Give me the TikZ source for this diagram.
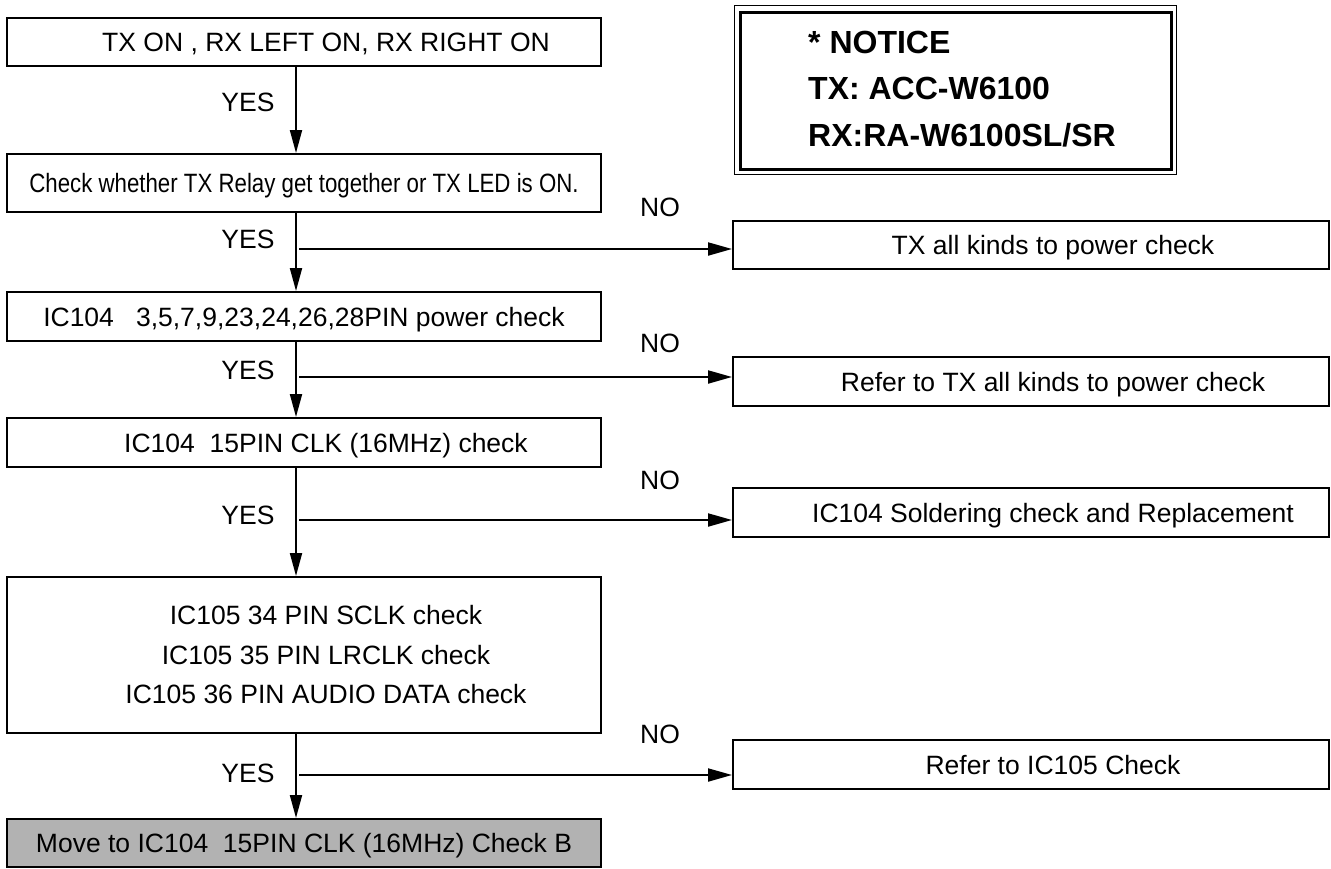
\documentclass[tikz,border=0pt]{standalone}
\usepackage{fontspec}
\setmainfont{Liberation Sans}
\usepackage{graphicx}
\usetikzlibrary{arrows.meta}
\definecolor{boxgray}{RGB}{178,178,178}
\def\padl{\hspace*{44pt}}
\tikzset{
  flowbox/.style={draw, line width=2pt, minimum width=594pt, inner sep=0pt,
    text height=19pt, text depth=0pt, font=\fontsize{26.5}{32}\selectfont},
  sidebox/.style={flowbox, minimum width=596pt},
  lbl/.style={anchor=base, inner sep=0pt, font=\fontsize{26.5}{32}\selectfont},
  downarrow/.style={line width=2pt, -{Triangle[length=23pt,width=12pt]}},
  sidearrow/.style={line width=2pt, -{Triangle[length=24pt,width=13pt]}},
  notetext/.style={anchor=base west, inner sep=0pt, font=\fontsize{32}{38}\selectfont\bfseries},
}
\begin{document}
\begin{tikzpicture}[x=1pt,y=-1pt]
\useasboundingbox (0,0) rectangle (1331,868);
% main column
\node[flowbox, minimum height=48pt] (b1) at (304,42) {\padl TX ON , RX LEFT ON, RX RIGHT ON};
\node[flowbox, minimum height=58pt] (b2) at (304,183) {\scalebox{0.84}[1]{Check whether TX Relay get together or TX LED is ON.}};
\node[flowbox, minimum height=49pt] (b3) at (304,316.5) {IC104\ \ \ 3,5,7,9,23,24,26,28PIN power check};
\node[flowbox, minimum height=49pt] (b4) at (304,442.5) {\padl IC104\ \ 15PIN CLK (16MHz) check};
\node[draw, line width=2pt, minimum width=594pt, minimum height=156pt, inner sep=0pt,
  align=center, font=\fontsize{26.5}{39.5}\selectfont] (b5) at (304,655)
  {\padl IC105 34 PIN SCLK check\\ \padl IC105 35 PIN LRCLK check\\ \padl IC105 36 PIN AUDIO DATA check};
\node[flowbox, fill=boxgray, minimum height=48pt] (b6) at (304,843) {Move to IC104\ \ 15PIN CLK (16MHz) Check B};
% side boxes
\node[sidebox, minimum height=48pt] (r1) at (1031,245) {\padl TX all kinds to power check};
\node[sidebox, minimum height=49pt] (r2) at (1031,381.5) {\padl Refer to TX all kinds to power check};
\node[sidebox, minimum height=49pt] (r3) at (1031,512.5) {\padl IC104 Soldering check and Replacement};
\node[sidebox, minimum height=49pt] (r4) at (1031,764.5) {\padl Refer to IC105 Check};
% notice
\node[draw, line width=3pt, minimum width=431pt, minimum height=157pt, inner sep=0pt] (notice) at (955.5,90.5) {};
\draw[line width=1pt] ([shift={(-4,-5)}]notice.north west) rectangle ([shift={(4,4)}]notice.south east);
\node[notetext] (n1) at (808,53.5) {* NOTICE};
\node[notetext] (n2) at (808,99.5) {TX: ACC-W6100};
\node[notetext] (n3) at (808,146.5) {RX:RA-W6100SL/SR};
% spine
\coordinate (vx) at (296,0);
\draw[downarrow] (b1.south -| vx) -- (b2.north -| vx);
\draw[downarrow] (b2.south -| vx) -- (b3.north -| vx);
\draw[downarrow] (b3.south -| vx) -- (b4.north -| vx);
\draw[downarrow] (b4.south -| vx) -- (b5.north -| vx);
\draw[downarrow] (b5.south -| vx) -- (b6.north -| vx);
% branches
\coordinate (j1) at (299,249);
\coordinate (j2) at (299,377);
\coordinate (j3) at (299,520);
\coordinate (j4) at (299,775);
\draw[sidearrow] (j1) -- (r1.west |- j1);
\draw[sidearrow] (j2) -- (r2.west |- j2);
\draw[sidearrow] (j3) -- (r3.west |- j3);
\draw[sidearrow] (j4) -- (r4.west |- j4);
% labels
\node[lbl] (y1) at (248,111.5) {YES};
\node[lbl] (y2) at (248,248.5) {YES};
\node[lbl] (y3) at (248,379.5) {YES};
\node[lbl] (y4) at (248,524.5) {YES};
\node[lbl] (y5) at (248,782.5) {YES};
\node[lbl] (no1) at (660,216.5) {NO};
\node[lbl] (no2) at (660,352.5) {NO};
\node[lbl] (no3) at (660,489.5) {NO};
\node[lbl] (no4) at (660,743.5) {NO};
\end{tikzpicture}
\end{document}
